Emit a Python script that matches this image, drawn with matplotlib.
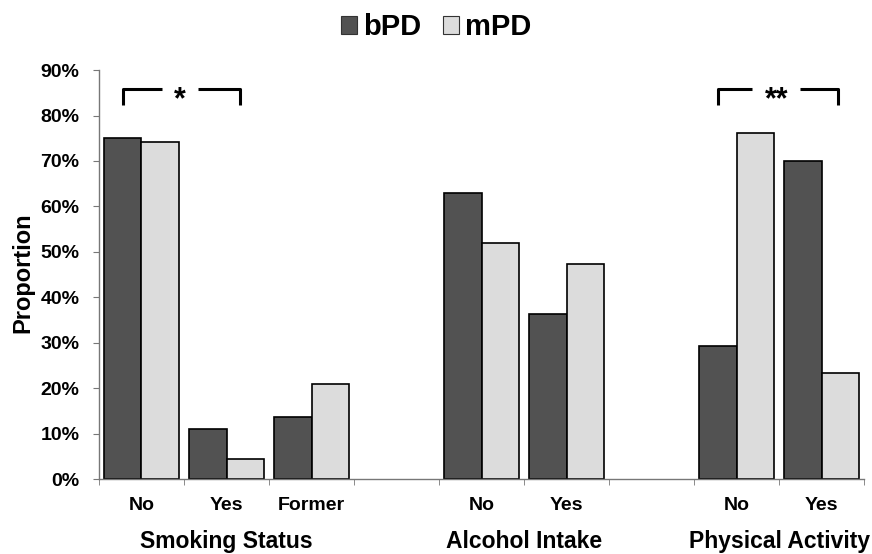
import numpy as np
import matplotlib
matplotlib.use("Agg")
import matplotlib.pyplot as plt
from matplotlib.patches import Patch
from matplotlib.transforms import blended_transform_factory

plt.rcParams['font.family'] = ['Liberation Sans', 'DejaVu Sans']
plt.rcParams['font.weight'] = 'bold'

# ---- data ----
slot_labels = ['No', 'Yes', 'Former', '', 'No', 'Yes', '', 'No', 'Yes']
bpd = [75.0, 11.0, 13.8, None, 63.0, 36.4, None, 29.4, 70.0]
mpd = [74.2, 4.5, 20.9, None, 52.0, 47.3, None, 76.2, 23.3]
group_names = ['Smoking Status', 'Alcohol Intake', 'Physical Activity']
group_slots = [[0, 1, 2], [4, 5], [7, 8]]
series_names = ['bPD', 'mPD']
yticks = [0, 10, 20, 30, 40, 50, 60, 70, 80, 90]

dark = '#525252'
light = '#dcdcdc'

fig = plt.figure(figsize=(8.72, 5.54), dpi=100)
ax = fig.add_axes([0.1135, 0.1348, 0.8775, 0.7388])

w = 0.44
xb = [i - w / 2 for i, v in enumerate(bpd) if v is not None]
vb = [v for v in bpd if v is not None]
xm = [i + w / 2 for i, v in enumerate(mpd) if v is not None]
vm = [v for v in mpd if v is not None]
ax.bar(xb, vb, width=w, color=dark, edgecolor='black', linewidth=1.2)
ax.bar(xm, vm, width=w, color=light, edgecolor='black', linewidth=1.2)

ax.set_xlim(-0.5, len(slot_labels) - 0.5)
ax.set_ylim(0, 90)
ax.set_yticks(yticks)
ax.set_yticklabels([f'{t}%' for t in yticks], fontsize=14, fontweight='bold')
ax.set_xticks(range(len(slot_labels)))
ax.set_xticklabels(slot_labels, fontsize=14, fontweight='bold')
ax.tick_params(axis='x', which='major', length=0, pad=13)
ax.set_xticks(np.arange(-0.5, len(slot_labels)), minor=True)
ax.tick_params(axis='x', which='minor', length=4, color='#777777', direction='out')
ax.tick_params(axis='y', length=4, color='#777777', pad=10)
for s in ['top', 'right']:
    ax.spines[s].set_visible(False)
for s in ['left', 'bottom']:
    ax.spines[s].set_color('#777777')
    ax.spines[s].set_linewidth(1.0)

ax.set_ylabel('Proportion', fontsize=17, fontweight='bold', va='center')
ax.yaxis.set_label_coords(-0.1, 0.506)

tr = blended_transform_factory(ax.transData, ax.transAxes)
for name, slots in zip(group_names, group_slots):
    ax.text(np.mean(slots), -0.151, name, transform=tr, ha='center', va='center',
            fontsize=16.5, fontweight='bold')

# significance brackets
def bracket(x0, x1, g0, g1, xt, label):
    top, bot = 85.8, 82.3
    kw = dict(color='black', linewidth=2.2, solid_capstyle='butt', clip_on=False)
    ax.plot([x0, x0, g0], [bot, top, top], **kw)
    ax.plot([g1, x1, x1], [top, top, bot], **kw)
    ax.text(xt, 81.7, label, ha='center', va='baseline', fontsize=22, fontweight='bold')

bracket(-0.22, 1.16, 0.24, 0.66, 0.45, '*')
bracket(6.78, 8.19, 7.18, 7.75, 7.47, '**')

handles = [Patch(facecolor=dark, edgecolor='#333333', linewidth=0.8),
           Patch(facecolor=light, edgecolor='#333333', linewidth=0.8)]
fig.legend(handles, series_names, loc='center', bbox_to_anchor=(0.5, 0.951), ncol=2,
           frameon=False, prop={'size': 21, 'weight': 'bold'}, handlelength=0.55,
           handleheight=0.55, handletextpad=0.2, columnspacing=0.75, borderpad=0.1)

fig.savefig('out.png', dpi=100)
